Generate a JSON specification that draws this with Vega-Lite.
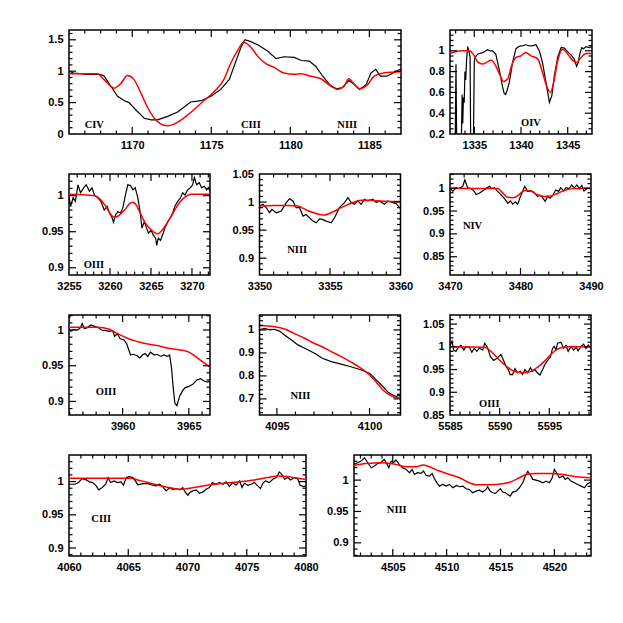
{
"$schema": "https://vega.github.io/schema/vega-lite/v6.json",
"background": "white",
"padding": {"left": 40, "top": 29, "right": 5, "bottom": 5},
"config": {
 "view": {"stroke": "black", "strokeWidth": 1.5},
 "axis": {"domain": false, "grid": false, "ticks": false, "tickSize": 0, "labelFont": "Liberation Sans", "labelFontSize": 11, "labelFontWeight": "bold", "labelColor": "black", "labelFlush": false, "labelOverlap": false, "labelBound": false},
 "tick": {"thickness": 1.2, "opacity": 1, "color": "black"}
},
"datasets": {
 "ao": [{"x":1166,"y":1.0},{"x":1166.3,"y":0.97},{"x":1166.7,"y":0.96},{"x":1167.1,"y":0.95},{"x":1167.5,"y":0.95},{"x":1167.9,"y":0.95},{"x":1168.2,"y":0.93},{"x":1168.65,"y":0.76},{"x":1169.07,"y":0.6},{"x":1169.5,"y":0.53},{"x":1169.8,"y":0.5},{"x":1170.2,"y":0.39},{"x":1170.76,"y":0.25},{"x":1171.2,"y":0.225},{"x":1171.6,"y":0.225},{"x":1172.24,"y":0.28},{"x":1172.87,"y":0.35},{"x":1173.7,"y":0.51},{"x":1174.35,"y":0.53},{"x":1174.98,"y":0.6},{"x":1175.6,"y":0.71},{"x":1176.14,"y":0.87},{"x":1176.56,"y":1.16},{"x":1176.88,"y":1.38},{"x":1177.13,"y":1.5},{"x":1177.5,"y":1.47},{"x":1177.93,"y":1.42},{"x":1178.56,"y":1.32},{"x":1179.1,"y":1.2},{"x":1179.6,"y":1.23},{"x":1180.25,"y":1.22},{"x":1180.7,"y":1.17},{"x":1181.2,"y":1.16},{"x":1181.6,"y":1.08},{"x":1182.05,"y":0.92},{"x":1182.47,"y":0.79},{"x":1182.9,"y":0.72},{"x":1183.3,"y":0.74},{"x":1183.7,"y":0.85},{"x":1184.05,"y":0.79},{"x":1184.37,"y":0.71},{"x":1184.8,"y":0.79},{"x":1185.1,"y":0.97},{"x":1185.4,"y":1.03},{"x":1185.7,"y":0.92},{"x":1186.1,"y":0.92},{"x":1186.5,"y":0.97},{"x":1187,"y":1.04}],
 "am": [{"x":1166,"y":0.96},{"x":1167.8,"y":0.96},{"x":1168.2,"y":0.87},{"x":1168.86,"y":0.73},{"x":1169.3,"y":0.81},{"x":1169.7,"y":0.93},{"x":1170.1,"y":0.87},{"x":1170.55,"y":0.65},{"x":1171,"y":0.41},{"x":1171.4,"y":0.25},{"x":1171.8,"y":0.16},{"x":1172.24,"y":0.13},{"x":1172.66,"y":0.16},{"x":1173.5,"y":0.3},{"x":1174.35,"y":0.49},{"x":1175.2,"y":0.68},{"x":1175.8,"y":0.87},{"x":1176.2,"y":1.11},{"x":1176.67,"y":1.33},{"x":1177.05,"y":1.46},{"x":1177.5,"y":1.38},{"x":1177.93,"y":1.24},{"x":1178.45,"y":1.12},{"x":1178.98,"y":1.06},{"x":1179.6,"y":0.97},{"x":1180.25,"y":0.95},{"x":1180.7,"y":0.96},{"x":1181.3,"y":0.92},{"x":1181.93,"y":0.88},{"x":1182.57,"y":0.76},{"x":1183,"y":0.71},{"x":1183.4,"y":0.76},{"x":1183.7,"y":0.88},{"x":1184.05,"y":0.79},{"x":1184.37,"y":0.72},{"x":1184.9,"y":0.79},{"x":1185.3,"y":0.92},{"x":1185.9,"y":0.97},{"x":1187,"y":0.99}],
 "al": [{"x":1167.6,"y":0.145,"t":"CIV"},{"x":1177.5,"y":0.145,"t":"CIII"},{"x":1183.6,"y":0.145,"t":"NIII"}],
 "at": [{"a":"x","k":"M","v":1170},{"a":"x","k":"M","v":1175},{"a":"x","k":"M","v":1180},{"a":"x","k":"M","v":1185},{"a":"x","k":"m","v":1167},{"a":"x","k":"m","v":1168},{"a":"x","k":"m","v":1169},{"a":"x","k":"m","v":1171},{"a":"x","k":"m","v":1172},{"a":"x","k":"m","v":1173},{"a":"x","k":"m","v":1174},{"a":"x","k":"m","v":1176},{"a":"x","k":"m","v":1177},{"a":"x","k":"m","v":1178},{"a":"x","k":"m","v":1179},{"a":"x","k":"m","v":1181},{"a":"x","k":"m","v":1182},{"a":"x","k":"m","v":1183},{"a":"x","k":"m","v":1184},{"a":"x","k":"m","v":1186},{"a":"y","k":"M","v":0.5},{"a":"y","k":"M","v":1},{"a":"y","k":"M","v":1.5},{"a":"y","k":"m","v":0.1},{"a":"y","k":"m","v":0.2},{"a":"y","k":"m","v":0.3},{"a":"y","k":"m","v":0.4},{"a":"y","k":"m","v":0.6},{"a":"y","k":"m","v":0.7},{"a":"y","k":"m","v":0.8},{"a":"y","k":"m","v":0.9},{"a":"y","k":"m","v":1.1},{"a":"y","k":"m","v":1.2},{"a":"y","k":"m","v":1.3},{"a":"y","k":"m","v":1.4},{"a":"y","k":"m","v":1.6}],
 "bo": [{"x":1332.4,"y":0.05},{"x":1332.95,"y":0.05},{"x":1333.04,"y":0.87},{"x":1333.12,"y":0.05},{"x":1333.6,"y":0.05},{"x":1333.7,"y":0.58},{"x":1333.76,"y":0.3},{"x":1333.84,"y":0.55},{"x":1333.92,"y":0.5},{"x":1334.0,"y":0.8},{"x":1334.08,"y":0.72},{"x":1334.18,"y":0.92},{"x":1334.3,"y":1.04},{"x":1334.42,"y":1.0},{"x":1334.55,"y":0.94},{"x":1334.62,"y":0.05},{"x":1334.9,"y":0.05},{"x":1335.0,"y":0.9},{"x":1335.1,"y":0.94},{"x":1335.4,"y":0.97},{"x":1335.8,"y":0.98},{"x":1336.1,"y":0.99},{"x":1336.4,"y":1.01},{"x":1336.7,"y":1.0},{"x":1336.96,"y":1.0},{"x":1337.3,"y":0.968},{"x":1337.7,"y":0.808},{"x":1338.04,"y":0.648},{"x":1338.2,"y":0.59},{"x":1338.35,"y":0.58},{"x":1338.5,"y":0.616},{"x":1338.75,"y":0.696},{"x":1339.1,"y":0.888},{"x":1339.46,"y":1.02},{"x":1339.75,"y":1.04},{"x":1340,"y":1.048},{"x":1340.25,"y":1.05},{"x":1340.5,"y":1.058},{"x":1340.8,"y":1.05},{"x":1341.07,"y":1.048},{"x":1341.3,"y":1.05},{"x":1341.6,"y":1.058},{"x":1341.96,"y":1.0},{"x":1342.3,"y":0.888},{"x":1342.7,"y":0.68},{"x":1343.04,"y":0.504},{"x":1343.3,"y":0.568},{"x":1343.57,"y":0.76},{"x":1343.93,"y":0.94},{"x":1344.3,"y":1.032},{"x":1344.64,"y":1.026},{"x":1345,"y":0.99},{"x":1345.36,"y":0.96},{"x":1345.7,"y":0.92},{"x":1345.95,"y":0.85},{"x":1346.1,"y":0.88},{"x":1346.3,"y":0.97},{"x":1346.5,"y":1.03},{"x":1346.7,"y":1.02},{"x":1346.96,"y":1.04},{"x":1347.3,"y":1.03},{"x":1347.6,"y":1.04}],
 "bm": [{"x":1332.4,"y":0.974},{"x":1333.6,"y":1.0},{"x":1334.46,"y":1.0},{"x":1335,"y":0.952},{"x":1335.36,"y":0.894},{"x":1335.9,"y":0.872},{"x":1336.4,"y":0.894},{"x":1336.8,"y":0.91},{"x":1337.3,"y":0.856},{"x":1337.7,"y":0.776},{"x":1338.14,"y":0.706},{"x":1338.57,"y":0.728},{"x":1338.93,"y":0.84},{"x":1339.46,"y":0.936},{"x":1340,"y":0.952},{"x":1340.5,"y":0.984},{"x":1341.07,"y":0.952},{"x":1341.8,"y":0.92},{"x":1342.3,"y":0.792},{"x":1342.8,"y":0.648},{"x":1343.14,"y":0.6},{"x":1343.5,"y":0.696},{"x":1343.93,"y":0.904},{"x":1344.46,"y":1.016},{"x":1345,"y":0.968},{"x":1345.5,"y":0.91},{"x":1345.95,"y":0.888},{"x":1346.43,"y":0.936},{"x":1346.96,"y":0.974},{"x":1347.6,"y":0.975}],
 "bl": [{"x":1341.07,"y":0.306,"t":"OIV"}],
 "bt": [{"a":"x","k":"M","v":1335},{"a":"x","k":"M","v":1340},{"a":"x","k":"M","v":1345},{"a":"x","k":"m","v":1333},{"a":"x","k":"m","v":1334},{"a":"x","k":"m","v":1336},{"a":"x","k":"m","v":1337},{"a":"x","k":"m","v":1338},{"a":"x","k":"m","v":1339},{"a":"x","k":"m","v":1341},{"a":"x","k":"m","v":1342},{"a":"x","k":"m","v":1343},{"a":"x","k":"m","v":1344},{"a":"x","k":"m","v":1346},{"a":"x","k":"m","v":1347},{"a":"y","k":"M","v":0.4},{"a":"y","k":"M","v":0.6},{"a":"y","k":"M","v":0.8},{"a":"y","k":"M","v":1},{"a":"y","k":"m","v":0.25},{"a":"y","k":"m","v":0.3},{"a":"y","k":"m","v":0.35},{"a":"y","k":"m","v":0.45},{"a":"y","k":"m","v":0.5},{"a":"y","k":"m","v":0.55},{"a":"y","k":"m","v":0.65},{"a":"y","k":"m","v":0.7},{"a":"y","k":"m","v":0.75},{"a":"y","k":"m","v":0.85},{"a":"y","k":"m","v":0.9},{"a":"y","k":"m","v":0.95},{"a":"y","k":"m","v":1.05},{"a":"y","k":"m","v":1.1},{"a":"y","k":"m","v":1.15}],
 "co": [{"x":3255,"y":0.999},{"x":3255.2,"y":0.985},{"x":3255.5,"y":0.997},{"x":3255.77,"y":0.992},{"x":3256.1,"y":1.015},{"x":3256.4,"y":1.004},{"x":3256.8,"y":1.011},{"x":3257.1,"y":1.015},{"x":3257.5,"y":1.006},{"x":3257.8,"y":1.011},{"x":3258.1,"y":1.001},{"x":3258.5,"y":0.997},{"x":3258.9,"y":0.992},{"x":3259.3,"y":0.98},{"x":3259.66,"y":0.985},{"x":3259.95,"y":0.976},{"x":3260.27,"y":0.969},{"x":3260.43,"y":0.963},{"x":3260.67,"y":0.973},{"x":3260.96,"y":0.978},{"x":3261.28,"y":0.976},{"x":3261.57,"y":0.983},{"x":3261.85,"y":0.999},{"x":3262.17,"y":1.015},{"x":3262.5,"y":1.014},{"x":3262.8,"y":1.008},{"x":3263.07,"y":1.011},{"x":3263.4,"y":0.997},{"x":3263.67,"y":0.978},{"x":3263.9,"y":0.955},{"x":3264.2,"y":0.964},{"x":3264.4,"y":0.957},{"x":3264.7,"y":0.948},{"x":3265,"y":0.952},{"x":3265.3,"y":0.945},{"x":3265.57,"y":0.941},{"x":3265.7,"y":0.931},{"x":3265.9,"y":0.941},{"x":3266.15,"y":0.938},{"x":3266.4,"y":0.945},{"x":3266.7,"y":0.955},{"x":3267.04,"y":0.964},{"x":3267.36,"y":0.969},{"x":3267.65,"y":0.976},{"x":3267.9,"y":0.985},{"x":3268.26,"y":0.992},{"x":3268.6,"y":0.997},{"x":3268.86,"y":1.004},{"x":3269.15,"y":1.001},{"x":3269.47,"y":1.008},{"x":3269.8,"y":1.011},{"x":3270.08,"y":1.015},{"x":3270.3,"y":1.025},{"x":3270.57,"y":1.015},{"x":3270.9,"y":1.018},{"x":3271.17,"y":1.011},{"x":3271.5,"y":1.013},{"x":3271.8,"y":1.008},{"x":3272.0,"y":1.011},{"x":3272.2,"y":1.006}],
 "cm": [{"x":3255,"y":1.002},{"x":3258.1,"y":1.0},{"x":3258.9,"y":0.994},{"x":3259.5,"y":0.985},{"x":3260.15,"y":0.973},{"x":3260.55,"y":0.97},{"x":3261.16,"y":0.973},{"x":3261.77,"y":0.98},{"x":3262.4,"y":0.989},{"x":3262.8,"y":0.991},{"x":3263.2,"y":0.987},{"x":3263.6,"y":0.978},{"x":3264.2,"y":0.964},{"x":3264.8,"y":0.955},{"x":3265.4,"y":0.949},{"x":3265.8,"y":0.947},{"x":3266.2,"y":0.95},{"x":3266.8,"y":0.959},{"x":3267.45,"y":0.971},{"x":3268.05,"y":0.983},{"x":3268.66,"y":0.993},{"x":3269.27,"y":0.999},{"x":3269.9,"y":1.002},{"x":3272.2,"y":1.002}],
 "cl": [{"x":3258.04,"y":0.904,"t":"OIII"}],
 "ct": [{"a":"x","k":"M","v":3260},{"a":"x","k":"M","v":3265},{"a":"x","k":"M","v":3270},{"a":"x","k":"m","v":3256},{"a":"x","k":"m","v":3257},{"a":"x","k":"m","v":3258},{"a":"x","k":"m","v":3259},{"a":"x","k":"m","v":3261},{"a":"x","k":"m","v":3262},{"a":"x","k":"m","v":3263},{"a":"x","k":"m","v":3264},{"a":"x","k":"m","v":3266},{"a":"x","k":"m","v":3267},{"a":"x","k":"m","v":3268},{"a":"x","k":"m","v":3269},{"a":"x","k":"m","v":3271},{"a":"x","k":"m","v":3272},{"a":"y","k":"M","v":0.9},{"a":"y","k":"M","v":0.95},{"a":"y","k":"M","v":1},{"a":"y","k":"m","v":0.91},{"a":"y","k":"m","v":0.92},{"a":"y","k":"m","v":0.93},{"a":"y","k":"m","v":0.94},{"a":"y","k":"m","v":0.96},{"a":"y","k":"m","v":0.97},{"a":"y","k":"m","v":0.98},{"a":"y","k":"m","v":0.99},{"a":"y","k":"m","v":1.01},{"a":"y","k":"m","v":1.02}],
 "do": [{"x":3350,"y":0.993},{"x":3350.24,"y":0.996},{"x":3350.48,"y":0.99},{"x":3350.71,"y":0.981},{"x":3350.88,"y":0.987},{"x":3351.18,"y":0.981},{"x":3351.54,"y":0.984},{"x":3351.9,"y":0.999},{"x":3352.13,"y":1.006},{"x":3352.37,"y":1.002},{"x":3352.6,"y":0.99},{"x":3352.84,"y":0.99},{"x":3353.08,"y":0.975},{"x":3353.3,"y":0.978},{"x":3353.55,"y":0.972},{"x":3353.79,"y":0.966},{"x":3354.02,"y":0.963},{"x":3354.26,"y":0.97},{"x":3354.45,"y":0.969},{"x":3354.73,"y":0.966},{"x":3355.08,"y":0.963},{"x":3355.32,"y":0.972},{"x":3355.67,"y":0.99},{"x":3356.03,"y":0.999},{"x":3356.27,"y":1.008},{"x":3356.5,"y":0.999},{"x":3356.74,"y":0.996},{"x":3356.98,"y":1.002},{"x":3357.2,"y":0.996},{"x":3357.45,"y":1.005},{"x":3357.69,"y":1.002},{"x":3358.04,"y":1.005},{"x":3358.28,"y":0.999},{"x":3358.5,"y":1.002},{"x":3358.87,"y":0.996},{"x":3359.1,"y":1.002},{"x":3359.46,"y":0.999},{"x":3359.7,"y":0.997},{"x":3359.93,"y":0.99},{"x":3360,"y":0.99}],
 "dm": [{"x":3350,"y":0.993},{"x":3351.06,"y":0.994},{"x":3352,"y":0.994},{"x":3352.7,"y":0.993},{"x":3353.4,"y":0.985},{"x":3354.26,"y":0.978},{"x":3354.6,"y":0.977},{"x":3355.08,"y":0.981},{"x":3355.8,"y":0.99},{"x":3356.5,"y":0.998},{"x":3357.2,"y":1.003},{"x":3357.9,"y":1.003},{"x":3358.6,"y":1.002},{"x":3359.3,"y":1.001},{"x":3360,"y":1.001}],
 "dl": [{"x":3352.67,"y":0.915,"t":"NIII"}],
 "dt": [{"a":"x","k":"M","v":3355},{"a":"x","k":"m","v":3351},{"a":"x","k":"m","v":3352},{"a":"x","k":"m","v":3353},{"a":"x","k":"m","v":3354},{"a":"x","k":"m","v":3356},{"a":"x","k":"m","v":3357},{"a":"x","k":"m","v":3358},{"a":"x","k":"m","v":3359},{"a":"y","k":"M","v":0.9},{"a":"y","k":"M","v":0.95},{"a":"y","k":"M","v":1},{"a":"y","k":"m","v":0.88},{"a":"y","k":"m","v":0.89},{"a":"y","k":"m","v":0.91},{"a":"y","k":"m","v":0.92},{"a":"y","k":"m","v":0.93},{"a":"y","k":"m","v":0.94},{"a":"y","k":"m","v":0.96},{"a":"y","k":"m","v":0.97},{"a":"y","k":"m","v":0.98},{"a":"y","k":"m","v":0.99},{"a":"y","k":"m","v":1.01},{"a":"y","k":"m","v":1.02},{"a":"y","k":"m","v":1.03},{"a":"y","k":"m","v":1.04}],
 "eo": [{"x":3470,"y":1.0},{"x":3470.4,"y":0.993},{"x":3470.85,"y":1.001},{"x":3471.3,"y":0.999},{"x":3471.8,"y":1.004},{"x":3472.1,"y":1.018},{"x":3472.5,"y":1.001},{"x":3473,"y":0.999},{"x":3473.45,"y":0.993},{"x":3473.7,"y":0.986},{"x":3474.16,"y":0.989},{"x":3474.6,"y":0.994},{"x":3475.1,"y":0.999},{"x":3475.6,"y":1.004},{"x":3475.9,"y":0.999},{"x":3476.3,"y":1.001},{"x":3476.76,"y":0.993},{"x":3477.2,"y":0.986},{"x":3477.7,"y":0.978},{"x":3478.2,"y":0.967},{"x":3478.56,"y":0.972},{"x":3478.9,"y":0.965},{"x":3479.27,"y":0.97},{"x":3479.6,"y":0.965},{"x":3479.9,"y":0.978},{"x":3480.3,"y":0.993},{"x":3480.6,"y":1.004},{"x":3481,"y":0.993},{"x":3481.5,"y":0.994},{"x":3481.9,"y":0.991},{"x":3482.4,"y":0.982},{"x":3482.8,"y":0.984},{"x":3483.1,"y":0.98},{"x":3483.5,"y":0.971},{"x":3483.85,"y":0.982},{"x":3484.2,"y":0.978},{"x":3484.56,"y":0.984},{"x":3485,"y":0.996},{"x":3485.4,"y":0.993},{"x":3485.7,"y":1.001},{"x":3486.1,"y":0.994},{"x":3486.45,"y":1.001},{"x":3486.9,"y":0.999},{"x":3487.26,"y":1.007},{"x":3487.6,"y":1.0},{"x":3488,"y":1.007},{"x":3488.35,"y":0.999},{"x":3488.7,"y":1.006},{"x":3489,"y":0.994},{"x":3489.5,"y":1.0},{"x":3490,"y":0.999}],
 "em": [{"x":3470,"y":1.0},{"x":3476.76,"y":0.999},{"x":3477.5,"y":0.989},{"x":3478.2,"y":0.98},{"x":3478.9,"y":0.979},{"x":3479.6,"y":0.983},{"x":3480.3,"y":0.993},{"x":3480.8,"y":0.995},{"x":3481.5,"y":0.993},{"x":3482.4,"y":0.986},{"x":3483.4,"y":0.982},{"x":3484.3,"y":0.983},{"x":3485.3,"y":0.989},{"x":3486.2,"y":0.995},{"x":3487.6,"y":0.999},{"x":3490,"y":1.0}],
 "el": [{"x":3473.2,"y":0.917,"t":"NIV"}],
 "et": [{"a":"x","k":"M","v":3480},{"a":"x","k":"m","v":3472},{"a":"x","k":"m","v":3474},{"a":"x","k":"m","v":3476},{"a":"x","k":"m","v":3478},{"a":"x","k":"m","v":3482},{"a":"x","k":"m","v":3484},{"a":"x","k":"m","v":3486},{"a":"x","k":"m","v":3488},{"a":"y","k":"M","v":0.85},{"a":"y","k":"M","v":0.9},{"a":"y","k":"M","v":0.95},{"a":"y","k":"M","v":1},{"a":"y","k":"m","v":0.82},{"a":"y","k":"m","v":0.83},{"a":"y","k":"m","v":0.84},{"a":"y","k":"m","v":0.86},{"a":"y","k":"m","v":0.87},{"a":"y","k":"m","v":0.88},{"a":"y","k":"m","v":0.89},{"a":"y","k":"m","v":0.91},{"a":"y","k":"m","v":0.92},{"a":"y","k":"m","v":0.93},{"a":"y","k":"m","v":0.94},{"a":"y","k":"m","v":0.96},{"a":"y","k":"m","v":0.97},{"a":"y","k":"m","v":0.98},{"a":"y","k":"m","v":0.99},{"a":"y","k":"m","v":1.01},{"a":"y","k":"m","v":1.02},{"a":"y","k":"m","v":1.03}],
 "fo": [{"x":3955.95,"y":1.002},{"x":3956.1,"y":0.998},{"x":3956.3,"y":1.001},{"x":3956.6,"y":1.0},{"x":3956.8,"y":1.003},{"x":3956.95,"y":1.009},{"x":3957.1,"y":1.002},{"x":3957.3,"y":1.003},{"x":3957.6,"y":1.007},{"x":3957.9,"y":1.005},{"x":3958.2,"y":1.003},{"x":3958.4,"y":1.0},{"x":3958.75,"y":0.999},{"x":3959,"y":0.998},{"x":3959.25,"y":0.999},{"x":3959.4,"y":0.991},{"x":3959.6,"y":0.995},{"x":3959.8,"y":0.988},{"x":3960.1,"y":0.986},{"x":3960.3,"y":0.981},{"x":3960.6,"y":0.965},{"x":3960.8,"y":0.966},{"x":3961.1,"y":0.964},{"x":3961.3,"y":0.961},{"x":3961.5,"y":0.965},{"x":3961.7,"y":0.967},{"x":3961.9,"y":0.963},{"x":3962.1,"y":0.969},{"x":3962.4,"y":0.965},{"x":3962.6,"y":0.966},{"x":3962.9,"y":0.963},{"x":3963.1,"y":0.965},{"x":3963.4,"y":0.963},{"x":3963.55,"y":0.965},{"x":3963.7,"y":0.946},{"x":3963.8,"y":0.923},{"x":3963.95,"y":0.897},{"x":3964.1,"y":0.894},{"x":3964.3,"y":0.907},{"x":3964.5,"y":0.914},{"x":3964.7,"y":0.919},{"x":3965,"y":0.921},{"x":3965.3,"y":0.924},{"x":3965.6,"y":0.93},{"x":3965.9,"y":0.932},{"x":3966.1,"y":0.929},{"x":3966.4,"y":0.927},{"x":3966.6,"y":0.928}],
 "fm": [{"x":3955.95,"y":1.004},{"x":3958.1,"y":1.004},{"x":3959,"y":1.001},{"x":3959.6,"y":0.995},{"x":3960.4,"y":0.988},{"x":3961.1,"y":0.984},{"x":3962,"y":0.98},{"x":3962.9,"y":0.977},{"x":3963.6,"y":0.974},{"x":3964.4,"y":0.972},{"x":3965,"y":0.969},{"x":3965.5,"y":0.963},{"x":3966,"y":0.956},{"x":3966.6,"y":0.948}],
 "fl": [{"x":3958.75,"y":0.913,"t":"OIII"}],
 "ft": [{"a":"x","k":"M","v":3960},{"a":"x","k":"M","v":3965},{"a":"x","k":"m","v":3956},{"a":"x","k":"m","v":3957},{"a":"x","k":"m","v":3958},{"a":"x","k":"m","v":3959},{"a":"x","k":"m","v":3961},{"a":"x","k":"m","v":3962},{"a":"x","k":"m","v":3963},{"a":"x","k":"m","v":3964},{"a":"x","k":"m","v":3966},{"a":"y","k":"M","v":0.9},{"a":"y","k":"M","v":0.95},{"a":"y","k":"M","v":1},{"a":"y","k":"m","v":0.89},{"a":"y","k":"m","v":0.91},{"a":"y","k":"m","v":0.92},{"a":"y","k":"m","v":0.93},{"a":"y","k":"m","v":0.94},{"a":"y","k":"m","v":0.96},{"a":"y","k":"m","v":0.97},{"a":"y","k":"m","v":0.98},{"a":"y","k":"m","v":0.99},{"a":"y","k":"m","v":1.01},{"a":"y","k":"m","v":1.02}],
 "go": [{"x":4094.06,"y":1.0},{"x":4094.33,"y":1.007},{"x":4094.6,"y":1.0},{"x":4094.87,"y":1.003},{"x":4095.14,"y":0.995},{"x":4095.41,"y":0.978},{"x":4095.77,"y":0.957},{"x":4096.13,"y":0.935},{"x":4096.5,"y":0.92},{"x":4096.85,"y":0.906},{"x":4097.12,"y":0.894},{"x":4097.3,"y":0.884},{"x":4097.45,"y":0.877},{"x":4097.93,"y":0.862},{"x":4098.47,"y":0.851},{"x":4099.0,"y":0.84},{"x":4099.55,"y":0.826},{"x":4100,"y":0.812},{"x":4100.36,"y":0.783},{"x":4100.72,"y":0.754},{"x":4101,"y":0.729},{"x":4101.26,"y":0.717},{"x":4101.44,"y":0.71},{"x":4101.55,"y":0.717},{"x":4101.67,"y":0.71}],
 "gm": [{"x":4094.06,"y":1.019},{"x":4094.87,"y":1.014},{"x":4095.41,"y":1.004},{"x":4095.9,"y":0.986},{"x":4096.5,"y":0.964},{"x":4097,"y":0.942},{"x":4097.4,"y":0.928},{"x":4097.93,"y":0.906},{"x":4098.47,"y":0.884},{"x":4099,"y":0.86},{"x":4099.55,"y":0.833},{"x":4100,"y":0.804},{"x":4100.36,"y":0.773},{"x":4100.72,"y":0.739},{"x":4101.1,"y":0.717},{"x":4101.35,"y":0.707},{"x":4101.67,"y":0.705}],
 "gl": [{"x":4096.27,"y":0.714,"t":"NIII"}],
 "gt": [{"a":"x","k":"M","v":4095},{"a":"x","k":"M","v":4100},{"a":"x","k":"m","v":4096},{"a":"x","k":"m","v":4097},{"a":"x","k":"m","v":4098},{"a":"x","k":"m","v":4099},{"a":"x","k":"m","v":4101},{"a":"y","k":"M","v":0.7},{"a":"y","k":"M","v":0.8},{"a":"y","k":"M","v":0.9},{"a":"y","k":"M","v":1},{"a":"y","k":"m","v":0.64},{"a":"y","k":"m","v":0.66},{"a":"y","k":"m","v":0.68},{"a":"y","k":"m","v":0.72},{"a":"y","k":"m","v":0.74},{"a":"y","k":"m","v":0.76},{"a":"y","k":"m","v":0.78},{"a":"y","k":"m","v":0.82},{"a":"y","k":"m","v":0.84},{"a":"y","k":"m","v":0.86},{"a":"y","k":"m","v":0.88},{"a":"y","k":"m","v":0.92},{"a":"y","k":"m","v":0.94},{"a":"y","k":"m","v":0.96},{"a":"y","k":"m","v":0.98},{"a":"y","k":"m","v":1.02},{"a":"y","k":"m","v":1.04},{"a":"y","k":"m","v":1.06}],
 "ho": [{"x":5585,"y":1.001},{"x":5585.2,"y":1.013},{"x":5585.37,"y":0.993},{"x":5585.6,"y":0.99},{"x":5585.84,"y":0.999},{"x":5586.1,"y":1.003},{"x":5586.4,"y":0.993},{"x":5586.6,"y":1.001},{"x":5586.95,"y":0.999},{"x":5587.2,"y":0.988},{"x":5587.45,"y":0.997},{"x":5587.7,"y":0.99},{"x":5587.95,"y":0.997},{"x":5588.3,"y":0.993},{"x":5588.5,"y":1.008},{"x":5588.8,"y":0.997},{"x":5589.06,"y":0.979},{"x":5589.4,"y":0.97},{"x":5589.7,"y":0.974},{"x":5590.13,"y":0.983},{"x":5590.4,"y":0.97},{"x":5590.64,"y":0.957},{"x":5590.87,"y":0.95},{"x":5591.07,"y":0.939},{"x":5591.3,"y":0.939},{"x":5591.54,"y":0.952},{"x":5591.8,"y":0.943},{"x":5592.08,"y":0.946},{"x":5592.3,"y":0.939},{"x":5592.55,"y":0.95},{"x":5592.8,"y":0.943},{"x":5593.1,"y":0.954},{"x":5593.3,"y":0.946},{"x":5593.55,"y":0.95},{"x":5593.8,"y":0.943},{"x":5594.06,"y":0.938},{"x":5594.33,"y":0.95},{"x":5594.56,"y":0.961},{"x":5594.83,"y":0.97},{"x":5595.1,"y":0.977},{"x":5595.33,"y":0.997},{"x":5595.5,"y":1.001},{"x":5595.67,"y":0.993},{"x":5595.84,"y":1.008},{"x":5596.17,"y":1.01},{"x":5596.44,"y":0.997},{"x":5596.68,"y":1.003},{"x":5596.9,"y":0.99},{"x":5597.18,"y":1.001},{"x":5597.45,"y":0.993},{"x":5597.7,"y":0.999},{"x":5597.9,"y":0.991},{"x":5598.2,"y":1.001},{"x":5598.46,"y":1.006},{"x":5598.7,"y":0.996},{"x":5598.93,"y":1.004},{"x":5599.2,"y":0.997}],
 "hm": [{"x":5585,"y":1.0},{"x":5588.46,"y":0.999},{"x":5589.13,"y":0.99},{"x":5589.8,"y":0.975},{"x":5590.47,"y":0.961},{"x":5591.14,"y":0.95},{"x":5591.8,"y":0.944},{"x":5592.48,"y":0.943},{"x":5593.15,"y":0.946},{"x":5593.8,"y":0.955},{"x":5594.5,"y":0.968},{"x":5595.17,"y":0.983},{"x":5595.67,"y":0.993},{"x":5596.17,"y":0.998},{"x":5596.85,"y":1.0},{"x":5599.2,"y":1.0}],
 "hl": [{"x":5588.96,"y":0.875,"t":"OIII"}],
 "ht": [{"a":"x","k":"M","v":5590},{"a":"x","k":"M","v":5595},{"a":"x","k":"m","v":5586},{"a":"x","k":"m","v":5587},{"a":"x","k":"m","v":5588},{"a":"x","k":"m","v":5589},{"a":"x","k":"m","v":5591},{"a":"x","k":"m","v":5592},{"a":"x","k":"m","v":5593},{"a":"x","k":"m","v":5594},{"a":"x","k":"m","v":5596},{"a":"x","k":"m","v":5597},{"a":"x","k":"m","v":5598},{"a":"x","k":"m","v":5599},{"a":"y","k":"M","v":0.9},{"a":"y","k":"M","v":0.95},{"a":"y","k":"M","v":1},{"a":"y","k":"M","v":1.05},{"a":"y","k":"m","v":0.86},{"a":"y","k":"m","v":0.87},{"a":"y","k":"m","v":0.88},{"a":"y","k":"m","v":0.89},{"a":"y","k":"m","v":0.91},{"a":"y","k":"m","v":0.92},{"a":"y","k":"m","v":0.93},{"a":"y","k":"m","v":0.94},{"a":"y","k":"m","v":0.96},{"a":"y","k":"m","v":0.97},{"a":"y","k":"m","v":0.98},{"a":"y","k":"m","v":0.99},{"a":"y","k":"m","v":1.01},{"a":"y","k":"m","v":1.02},{"a":"y","k":"m","v":1.03},{"a":"y","k":"m","v":1.04},{"a":"y","k":"m","v":1.06}],
 "io": [{"x":4060,"y":0.996},{"x":4060.5,"y":0.996},{"x":4060.8,"y":0.9985},{"x":4061.1,"y":1.0045},{"x":4061.46,"y":1.0025},{"x":4061.74,"y":0.9995},{"x":4062.0,"y":0.9985},{"x":4062.3,"y":0.9935},{"x":4062.5,"y":0.9875},{"x":4062.8,"y":0.991},{"x":4063.1,"y":0.996},{"x":4063.3,"y":1.006},{"x":4063.5,"y":0.9985},{"x":4063.8,"y":1.001},{"x":4064.07,"y":0.9985},{"x":4064.4,"y":0.9995},{"x":4064.6,"y":0.9945},{"x":4064.83,"y":1.006},{"x":4065.1,"y":1.0075},{"x":4065.4,"y":1.006},{"x":4065.6,"y":1.001},{"x":4065.8,"y":0.995},{"x":4066.24,"y":0.997},{"x":4066.66,"y":0.997},{"x":4067.08,"y":0.9945},{"x":4067.36,"y":0.9935},{"x":4067.64,"y":0.996},{"x":4067.9,"y":0.9925},{"x":4068.2,"y":0.986},{"x":4068.5,"y":0.991},{"x":4068.76,"y":0.9875},{"x":4069.04,"y":0.9895},{"x":4069.33,"y":0.9875},{"x":4069.6,"y":0.991},{"x":4069.8,"y":0.9845},{"x":4070.03,"y":0.9795},{"x":4070.2,"y":0.9835},{"x":4070.45,"y":0.986},{"x":4070.73,"y":0.9875},{"x":4071,"y":0.9825},{"x":4071.3,"y":0.9845},{"x":4071.57,"y":0.9885},{"x":4071.85,"y":0.991},{"x":4072.1,"y":0.9985},{"x":4072.4,"y":0.996},{"x":4072.7,"y":0.9985},{"x":4073,"y":0.996},{"x":4073.26,"y":0.9995},{"x":4073.54,"y":0.9925},{"x":4073.8,"y":0.9985},{"x":4074.1,"y":0.9945},{"x":4074.4,"y":1.001},{"x":4074.6,"y":0.991},{"x":4074.8,"y":0.9975},{"x":4075.1,"y":0.9945},{"x":4075.36,"y":0.996},{"x":4075.65,"y":0.9985},{"x":4075.93,"y":0.9935},{"x":4076.15,"y":0.9895},{"x":4076.4,"y":0.9985},{"x":4076.6,"y":1.001},{"x":4076.9,"y":0.9985},{"x":4077.2,"y":1.0035},{"x":4077.5,"y":1.006},{"x":4077.75,"y":1.0145},{"x":4077.95,"y":1.011},{"x":4078.2,"y":1.0035},{"x":4078.46,"y":1.006},{"x":4078.7,"y":1.0025},{"x":4079,"y":1.006},{"x":4079.3,"y":1.0045},{"x":4079.5,"y":0.9945},{"x":4079.8,"y":0.9925},{"x":4080,"y":0.9935}],
 "im": [{"x":4060,"y":1.005},{"x":4065.25,"y":1.005},{"x":4065.8,"y":1.0025},{"x":4066.66,"y":0.9985},{"x":4067.8,"y":0.9935},{"x":4068.9,"y":0.9895},{"x":4069.5,"y":0.9885},{"x":4070.3,"y":0.9905},{"x":4071.7,"y":0.9945},{"x":4072.85,"y":0.997},{"x":4074.24,"y":0.9995},{"x":4075.65,"y":1.0025},{"x":4076.77,"y":1.006},{"x":4077.6,"y":1.0085},{"x":4078.46,"y":1.0075},{"x":4079.3,"y":1.005},{"x":4080,"y":1.003}],
 "il": [{"x":4062.72,"y":0.9435,"t":"CIII"}],
 "it": [{"a":"x","k":"M","v":4065},{"a":"x","k":"M","v":4070},{"a":"x","k":"M","v":4075},{"a":"x","k":"m","v":4061},{"a":"x","k":"m","v":4062},{"a":"x","k":"m","v":4063},{"a":"x","k":"m","v":4064},{"a":"x","k":"m","v":4066},{"a":"x","k":"m","v":4067},{"a":"x","k":"m","v":4068},{"a":"x","k":"m","v":4069},{"a":"x","k":"m","v":4071},{"a":"x","k":"m","v":4072},{"a":"x","k":"m","v":4073},{"a":"x","k":"m","v":4074},{"a":"x","k":"m","v":4076},{"a":"x","k":"m","v":4077},{"a":"x","k":"m","v":4078},{"a":"x","k":"m","v":4079},{"a":"y","k":"M","v":0.9},{"a":"y","k":"M","v":0.95},{"a":"y","k":"M","v":1},{"a":"y","k":"m","v":0.89},{"a":"y","k":"m","v":0.91},{"a":"y","k":"m","v":0.92},{"a":"y","k":"m","v":0.93},{"a":"y","k":"m","v":0.94},{"a":"y","k":"m","v":0.96},{"a":"y","k":"m","v":0.97},{"a":"y","k":"m","v":0.98},{"a":"y","k":"m","v":0.99},{"a":"y","k":"m","v":1.01},{"a":"y","k":"m","v":1.02},{"a":"y","k":"m","v":1.03}],
 "jo": [{"x":4501.4,"y":1.025},{"x":4501.75,"y":1.0277},{"x":4502.06,"y":1.0303},{"x":4502.37,"y":1.0356},{"x":4502.68,"y":1.0277},{"x":4503,"y":1.0197},{"x":4503.3,"y":1.0223},{"x":4503.6,"y":1.0266},{"x":4503.9,"y":1.0277},{"x":4504.2,"y":1.033},{"x":4504.44,"y":1.0266},{"x":4504.63,"y":1.0197},{"x":4504.85,"y":1.0303},{"x":4505.06,"y":1.0277},{"x":4505.3,"y":1.032},{"x":4505.6,"y":1.025},{"x":4505.93,"y":1.0197},{"x":4506.24,"y":1.017},{"x":4506.55,"y":1.0117},{"x":4506.8,"y":1.017},{"x":4507,"y":1.009},{"x":4507.3,"y":1.0117},{"x":4507.63,"y":1.0106},{"x":4507.85,"y":1.0144},{"x":4508.1,"y":1.0074},{"x":4508.4,"y":1.0064},{"x":4508.65,"y":1.0106},{"x":4508.87,"y":1.0021},{"x":4509.1,"y":0.9957},{"x":4509.33,"y":0.9904},{"x":4509.64,"y":0.9931},{"x":4509.95,"y":0.9904},{"x":4510.26,"y":0.9931},{"x":4510.57,"y":0.9878},{"x":4510.9,"y":0.9915},{"x":4511.2,"y":0.9894},{"x":4511.5,"y":0.9904},{"x":4511.8,"y":0.9862},{"x":4512.1,"y":0.9851},{"x":4512.42,"y":0.9798},{"x":4512.73,"y":0.9824},{"x":4513.04,"y":0.984},{"x":4513.35,"y":0.9809},{"x":4513.66,"y":0.9851},{"x":4513.8,"y":0.9894},{"x":4514.03,"y":0.9824},{"x":4514.28,"y":0.9798},{"x":4514.53,"y":0.9787},{"x":4514.74,"y":0.9824},{"x":4515,"y":0.9862},{"x":4515.2,"y":0.9809},{"x":4515.45,"y":0.9798},{"x":4515.67,"y":0.9771},{"x":4515.9,"y":0.9745},{"x":4516.13,"y":0.9809},{"x":4516.44,"y":0.9824},{"x":4516.75,"y":0.9878},{"x":4517.06,"y":0.9957},{"x":4517.3,"y":1.0064},{"x":4517.53,"y":1.014},{"x":4517.74,"y":1.0091},{"x":4518,"y":1.0011},{"x":4518.3,"y":1.0},{"x":4518.6,"y":0.9984},{"x":4518.92,"y":0.9957},{"x":4519.23,"y":0.9984},{"x":4519.54,"y":0.9957},{"x":4519.8,"y":1.0037},{"x":4520,"y":1.017},{"x":4520.2,"y":1.0117},{"x":4520.47,"y":1.0037},{"x":4520.8,"y":1.0064},{"x":4521,"y":1.0011},{"x":4521.24,"y":1.0037},{"x":4521.55,"y":0.9984},{"x":4521.86,"y":0.9957},{"x":4522.17,"y":0.9931},{"x":4522.48,"y":0.9904},{"x":4522.8,"y":0.9878},{"x":4523,"y":0.9931},{"x":4523.25,"y":0.9957},{"x":4523.4,"y":0.9968}],
 "jm": [{"x":4501.4,"y":1.0234},{"x":4502.5,"y":1.0266},{"x":4504.07,"y":1.0277},{"x":4505.3,"y":1.025},{"x":4506.24,"y":1.0213},{"x":4507.17,"y":1.0213},{"x":4507.8,"y":1.024},{"x":4508.4,"y":1.0213},{"x":4509.33,"y":1.0144},{"x":4510.26,"y":1.009},{"x":4511.2,"y":1.0037},{"x":4512.1,"y":0.9957},{"x":4512.73,"y":0.9926},{"x":4514,"y":0.9926},{"x":4515.2,"y":0.994},{"x":4516.13,"y":0.9984},{"x":4516.75,"y":1.0037},{"x":4517.37,"y":1.009},{"x":4518.3,"y":1.0106},{"x":4519.54,"y":1.0106},{"x":4520.8,"y":1.009},{"x":4522,"y":1.0053},{"x":4523.4,"y":1.0037}],
 "jl": [{"x":4505.37,"y":0.953,"t":"NIII"}],
 "jt": [{"a":"x","k":"M","v":4505},{"a":"x","k":"M","v":4510},{"a":"x","k":"M","v":4515},{"a":"x","k":"M","v":4520},{"a":"x","k":"m","v":4502},{"a":"x","k":"m","v":4503},{"a":"x","k":"m","v":4504},{"a":"x","k":"m","v":4506},{"a":"x","k":"m","v":4507},{"a":"x","k":"m","v":4508},{"a":"x","k":"m","v":4509},{"a":"x","k":"m","v":4511},{"a":"x","k":"m","v":4512},{"a":"x","k":"m","v":4513},{"a":"x","k":"m","v":4514},{"a":"x","k":"m","v":4516},{"a":"x","k":"m","v":4517},{"a":"x","k":"m","v":4518},{"a":"x","k":"m","v":4519},{"a":"x","k":"m","v":4521},{"a":"x","k":"m","v":4522},{"a":"x","k":"m","v":4523},{"a":"y","k":"M","v":0.9},{"a":"y","k":"M","v":0.95},{"a":"y","k":"M","v":1},{"a":"y","k":"m","v":0.88},{"a":"y","k":"m","v":0.89},{"a":"y","k":"m","v":0.91},{"a":"y","k":"m","v":0.92},{"a":"y","k":"m","v":0.93},{"a":"y","k":"m","v":0.94},{"a":"y","k":"m","v":0.96},{"a":"y","k":"m","v":0.97},{"a":"y","k":"m","v":0.98},{"a":"y","k":"m","v":0.99},{"a":"y","k":"m","v":1.01},{"a":"y","k":"m","v":1.02},{"a":"y","k":"m","v":1.03}]
},
"spacing": 15,
"vconcat": [
 {"hconcat": [
  {"width":332,"height":104,"layer":[
   {"data":{"name":"ao"},"mark":{"type":"line","color":"black","strokeWidth":1.2,"clip":true},"encoding":{"x":{"field":"x","type":"quantitative","scale":{"domain":[1166,1187],"nice":false,"zero":false},"axis":{"orient":"bottom","values":[1170,1175,1180,1185],"labelPadding":5.5,"format":"~g","title":null}},"y":{"field":"y","type":"quantitative","scale":{"domain":[0,1.656],"nice":false,"zero":false},"axis":{"orient":"left","values":[0,0.5,1,1.5],"labelPadding":6,"format":"~g","title":null}}}},
   {"data":{"name":"am"},"mark":{"type":"line","color":"#ff0000","strokeWidth":1.5,"clip":true,"interpolate":"monotone"},"encoding":{"x":{"field":"x","type":"quantitative","axis":null},"y":{"field":"y","type":"quantitative","axis":{"orient":"left","values":[0.8],"labelExpr":"'0.95'","labelOpacity":0,"labelPadding":6,"title":null}}}},
   {"data":{"name":"al"},"mark":{"type":"text","font":"Liberation Serif","fontSize":10.5,"fontWeight":"bold","color":"black"},"encoding":{"x":{"field":"x","type":"quantitative","axis":null},"y":{"field":"y","type":"quantitative","axis":null},"text":{"field":"t"}}},
   {"data":{"name":"at"},"transform":[{"filter":"datum.a=='x'&&datum.k=='M'"}],"mark":{"type":"tick","orient":"vertical","size":7,"yOffset":-3.5},"encoding":{"x":{"field":"v","type":"quantitative","axis":null},"y":{"datum":0,"type":"quantitative","axis":null}}},
   {"data":{"name":"at"},"transform":[{"filter":"datum.a=='x'&&datum.k=='M'"}],"mark":{"type":"tick","orient":"vertical","size":7,"yOffset":3.5},"encoding":{"x":{"field":"v","type":"quantitative","axis":null},"y":{"datum":1.656,"type":"quantitative","axis":null}}},
   {"data":{"name":"at"},"transform":[{"filter":"datum.a=='x'&&datum.k=='m'"}],"mark":{"type":"tick","orient":"vertical","size":3.5,"yOffset":-1.75},"encoding":{"x":{"field":"v","type":"quantitative","axis":null},"y":{"datum":0,"type":"quantitative","axis":null}}},
   {"data":{"name":"at"},"transform":[{"filter":"datum.a=='x'&&datum.k=='m'"}],"mark":{"type":"tick","orient":"vertical","size":3.5,"yOffset":1.75},"encoding":{"x":{"field":"v","type":"quantitative","axis":null},"y":{"datum":1.656,"type":"quantitative","axis":null}}},
   {"data":{"name":"at"},"transform":[{"filter":"datum.a=='y'&&datum.k=='M'"}],"mark":{"type":"tick","orient":"horizontal","size":7,"xOffset":3.5},"encoding":{"y":{"field":"v","type":"quantitative","axis":null},"x":{"datum":1166,"type":"quantitative","axis":null}}},
   {"data":{"name":"at"},"transform":[{"filter":"datum.a=='y'&&datum.k=='M'"}],"mark":{"type":"tick","orient":"horizontal","size":7,"xOffset":-3.5},"encoding":{"y":{"field":"v","type":"quantitative","axis":null},"x":{"datum":1187,"type":"quantitative","axis":null}}},
   {"data":{"name":"at"},"transform":[{"filter":"datum.a=='y'&&datum.k=='m'"}],"mark":{"type":"tick","orient":"horizontal","size":3.5,"xOffset":1.75},"encoding":{"y":{"field":"v","type":"quantitative","axis":null},"x":{"datum":1166,"type":"quantitative","axis":null}}},
   {"data":{"name":"at"},"transform":[{"filter":"datum.a=='y'&&datum.k=='m'"}],"mark":{"type":"tick","orient":"horizontal","size":3.5,"xOffset":-1.75},"encoding":{"y":{"field":"v","type":"quantitative","axis":null},"x":{"datum":1187,"type":"quantitative","axis":null}}}
  ],"resolve":{"axis":{"x":"independent","y":"independent"}}},
  {"width":142,"height":104,"layer":[
   {"data":{"name":"bo"},"mark":{"type":"line","color":"black","strokeWidth":1.2,"clip":true},"encoding":{"x":{"field":"x","type":"quantitative","scale":{"domain":[1332.4,1347.6],"nice":false,"zero":false},"axis":{"orient":"bottom","values":[1335,1340,1345],"labelPadding":5.5,"format":"~g","title":null}},"y":{"field":"y","type":"quantitative","scale":{"domain":[0.2,1.2],"nice":false,"zero":false},"axis":{"orient":"left","values":[0.2,0.4,0.6,0.8,1],"labelPadding":6,"format":"~g","title":null}}}},
   {"data":{"name":"bm"},"mark":{"type":"line","color":"#ff0000","strokeWidth":1.5,"clip":true,"interpolate":"monotone"},"encoding":{"x":{"field":"x","type":"quantitative","axis":null},"y":{"field":"y","type":"quantitative","axis":null}}},
   {"data":{"name":"bl"},"mark":{"type":"text","font":"Liberation Serif","fontSize":10.5,"fontWeight":"bold","color":"black"},"encoding":{"x":{"field":"x","type":"quantitative","axis":null},"y":{"field":"y","type":"quantitative","axis":null},"text":{"field":"t"}}},
   {"data":{"name":"bt"},"transform":[{"filter":"datum.a=='x'&&datum.k=='M'"}],"mark":{"type":"tick","orient":"vertical","size":7,"yOffset":-3.5},"encoding":{"x":{"field":"v","type":"quantitative","axis":null},"y":{"datum":0.2,"type":"quantitative","axis":null}}},
   {"data":{"name":"bt"},"transform":[{"filter":"datum.a=='x'&&datum.k=='M'"}],"mark":{"type":"tick","orient":"vertical","size":7,"yOffset":3.5},"encoding":{"x":{"field":"v","type":"quantitative","axis":null},"y":{"datum":1.2,"type":"quantitative","axis":null}}},
   {"data":{"name":"bt"},"transform":[{"filter":"datum.a=='x'&&datum.k=='m'"}],"mark":{"type":"tick","orient":"vertical","size":3.5,"yOffset":-1.75},"encoding":{"x":{"field":"v","type":"quantitative","axis":null},"y":{"datum":0.2,"type":"quantitative","axis":null}}},
   {"data":{"name":"bt"},"transform":[{"filter":"datum.a=='x'&&datum.k=='m'"}],"mark":{"type":"tick","orient":"vertical","size":3.5,"yOffset":1.75},"encoding":{"x":{"field":"v","type":"quantitative","axis":null},"y":{"datum":1.2,"type":"quantitative","axis":null}}},
   {"data":{"name":"bt"},"transform":[{"filter":"datum.a=='y'&&datum.k=='M'"}],"mark":{"type":"tick","orient":"horizontal","size":7,"xOffset":3.5},"encoding":{"y":{"field":"v","type":"quantitative","axis":null},"x":{"datum":1332.4,"type":"quantitative","axis":null}}},
   {"data":{"name":"bt"},"transform":[{"filter":"datum.a=='y'&&datum.k=='M'"}],"mark":{"type":"tick","orient":"horizontal","size":7,"xOffset":-3.5},"encoding":{"y":{"field":"v","type":"quantitative","axis":null},"x":{"datum":1347.6,"type":"quantitative","axis":null}}},
   {"data":{"name":"bt"},"transform":[{"filter":"datum.a=='y'&&datum.k=='m'"}],"mark":{"type":"tick","orient":"horizontal","size":3.5,"xOffset":1.75},"encoding":{"y":{"field":"v","type":"quantitative","axis":null},"x":{"datum":1332.4,"type":"quantitative","axis":null}}},
   {"data":{"name":"bt"},"transform":[{"filter":"datum.a=='y'&&datum.k=='m'"}],"mark":{"type":"tick","orient":"horizontal","size":3.5,"xOffset":-1.75},"encoding":{"y":{"field":"v","type":"quantitative","axis":null},"x":{"datum":1347.6,"type":"quantitative","axis":null}}}
  ],"resolve":{"axis":{"x":"independent","y":"independent"}}}
 ],"spacing":49,"bounds":"flush"},
 {"hconcat": [
  {"width":141,"height":101,"layer":[
   {"data":{"name":"co"},"mark":{"type":"line","color":"black","strokeWidth":1.2,"clip":true},"encoding":{"x":{"field":"x","type":"quantitative","scale":{"domain":[3255,3272.2],"nice":false,"zero":false},"axis":{"orient":"bottom","values":[3255,3260,3265,3270],"labelPadding":5.5,"format":"~g","title":null}},"y":{"field":"y","type":"quantitative","scale":{"domain":[0.89,1.03],"nice":false,"zero":false},"axis":{"orient":"left","values":[0.9,0.95,1],"labelPadding":6,"format":"~g","title":null}}}},
   {"data":{"name":"cm"},"mark":{"type":"line","color":"#ff0000","strokeWidth":1.5,"clip":true,"interpolate":"monotone"},"encoding":{"x":{"field":"x","type":"quantitative","axis":null},"y":{"field":"y","type":"quantitative","axis":null}}},
   {"data":{"name":"cl"},"mark":{"type":"text","font":"Liberation Serif","fontSize":10.5,"fontWeight":"bold","color":"black"},"encoding":{"x":{"field":"x","type":"quantitative","axis":null},"y":{"field":"y","type":"quantitative","axis":null},"text":{"field":"t"}}},
   {"data":{"name":"ct"},"transform":[{"filter":"datum.a=='x'&&datum.k=='M'"}],"mark":{"type":"tick","orient":"vertical","size":7,"yOffset":-3.5},"encoding":{"x":{"field":"v","type":"quantitative","axis":null},"y":{"datum":0.89,"type":"quantitative","axis":null}}},
   {"data":{"name":"ct"},"transform":[{"filter":"datum.a=='x'&&datum.k=='M'"}],"mark":{"type":"tick","orient":"vertical","size":7,"yOffset":3.5},"encoding":{"x":{"field":"v","type":"quantitative","axis":null},"y":{"datum":1.03,"type":"quantitative","axis":null}}},
   {"data":{"name":"ct"},"transform":[{"filter":"datum.a=='x'&&datum.k=='m'"}],"mark":{"type":"tick","orient":"vertical","size":3.5,"yOffset":-1.75},"encoding":{"x":{"field":"v","type":"quantitative","axis":null},"y":{"datum":0.89,"type":"quantitative","axis":null}}},
   {"data":{"name":"ct"},"transform":[{"filter":"datum.a=='x'&&datum.k=='m'"}],"mark":{"type":"tick","orient":"vertical","size":3.5,"yOffset":1.75},"encoding":{"x":{"field":"v","type":"quantitative","axis":null},"y":{"datum":1.03,"type":"quantitative","axis":null}}},
   {"data":{"name":"ct"},"transform":[{"filter":"datum.a=='y'&&datum.k=='M'"}],"mark":{"type":"tick","orient":"horizontal","size":7,"xOffset":3.5},"encoding":{"y":{"field":"v","type":"quantitative","axis":null},"x":{"datum":3255,"type":"quantitative","axis":null}}},
   {"data":{"name":"ct"},"transform":[{"filter":"datum.a=='y'&&datum.k=='M'"}],"mark":{"type":"tick","orient":"horizontal","size":7,"xOffset":-3.5},"encoding":{"y":{"field":"v","type":"quantitative","axis":null},"x":{"datum":3272.2,"type":"quantitative","axis":null}}},
   {"data":{"name":"ct"},"transform":[{"filter":"datum.a=='y'&&datum.k=='m'"}],"mark":{"type":"tick","orient":"horizontal","size":3.5,"xOffset":1.75},"encoding":{"y":{"field":"v","type":"quantitative","axis":null},"x":{"datum":3255,"type":"quantitative","axis":null}}},
   {"data":{"name":"ct"},"transform":[{"filter":"datum.a=='y'&&datum.k=='m'"}],"mark":{"type":"tick","orient":"horizontal","size":3.5,"xOffset":-1.75},"encoding":{"y":{"field":"v","type":"quantitative","axis":null},"x":{"datum":3272.2,"type":"quantitative","axis":null}}}
  ],"resolve":{"axis":{"x":"independent","y":"independent"}}},
  {"width":141,"height":101,"layer":[
   {"data":{"name":"do"},"mark":{"type":"line","color":"black","strokeWidth":1.2,"clip":true},"encoding":{"x":{"field":"x","type":"quantitative","scale":{"domain":[3350,3360],"nice":false,"zero":false},"axis":{"orient":"bottom","values":[3350,3355,3360],"labelPadding":5.5,"format":"~g","title":null}},"y":{"field":"y","type":"quantitative","scale":{"domain":[0.87,1.05],"nice":false,"zero":false},"axis":{"orient":"left","values":[0.9,0.95,1,1.05],"labelPadding":6,"format":"~g","title":null}}}},
   {"data":{"name":"dm"},"mark":{"type":"line","color":"#ff0000","strokeWidth":1.5,"clip":true,"interpolate":"monotone"},"encoding":{"x":{"field":"x","type":"quantitative","axis":null},"y":{"field":"y","type":"quantitative","axis":null}}},
   {"data":{"name":"dl"},"mark":{"type":"text","font":"Liberation Serif","fontSize":10.5,"fontWeight":"bold","color":"black"},"encoding":{"x":{"field":"x","type":"quantitative","axis":null},"y":{"field":"y","type":"quantitative","axis":null},"text":{"field":"t"}}},
   {"data":{"name":"dt"},"transform":[{"filter":"datum.a=='x'&&datum.k=='M'"}],"mark":{"type":"tick","orient":"vertical","size":7,"yOffset":-3.5},"encoding":{"x":{"field":"v","type":"quantitative","axis":null},"y":{"datum":0.87,"type":"quantitative","axis":null}}},
   {"data":{"name":"dt"},"transform":[{"filter":"datum.a=='x'&&datum.k=='M'"}],"mark":{"type":"tick","orient":"vertical","size":7,"yOffset":3.5},"encoding":{"x":{"field":"v","type":"quantitative","axis":null},"y":{"datum":1.05,"type":"quantitative","axis":null}}},
   {"data":{"name":"dt"},"transform":[{"filter":"datum.a=='x'&&datum.k=='m'"}],"mark":{"type":"tick","orient":"vertical","size":3.5,"yOffset":-1.75},"encoding":{"x":{"field":"v","type":"quantitative","axis":null},"y":{"datum":0.87,"type":"quantitative","axis":null}}},
   {"data":{"name":"dt"},"transform":[{"filter":"datum.a=='x'&&datum.k=='m'"}],"mark":{"type":"tick","orient":"vertical","size":3.5,"yOffset":1.75},"encoding":{"x":{"field":"v","type":"quantitative","axis":null},"y":{"datum":1.05,"type":"quantitative","axis":null}}},
   {"data":{"name":"dt"},"transform":[{"filter":"datum.a=='y'&&datum.k=='M'"}],"mark":{"type":"tick","orient":"horizontal","size":7,"xOffset":3.5},"encoding":{"y":{"field":"v","type":"quantitative","axis":null},"x":{"datum":3350,"type":"quantitative","axis":null}}},
   {"data":{"name":"dt"},"transform":[{"filter":"datum.a=='y'&&datum.k=='M'"}],"mark":{"type":"tick","orient":"horizontal","size":7,"xOffset":-3.5},"encoding":{"y":{"field":"v","type":"quantitative","axis":null},"x":{"datum":3360,"type":"quantitative","axis":null}}},
   {"data":{"name":"dt"},"transform":[{"filter":"datum.a=='y'&&datum.k=='m'"}],"mark":{"type":"tick","orient":"horizontal","size":3.5,"xOffset":1.75},"encoding":{"y":{"field":"v","type":"quantitative","axis":null},"x":{"datum":3350,"type":"quantitative","axis":null}}},
   {"data":{"name":"dt"},"transform":[{"filter":"datum.a=='y'&&datum.k=='m'"}],"mark":{"type":"tick","orient":"horizontal","size":3.5,"xOffset":-1.75},"encoding":{"y":{"field":"v","type":"quantitative","axis":null},"x":{"datum":3360,"type":"quantitative","axis":null}}}
  ],"resolve":{"axis":{"x":"independent","y":"independent"}}},
  {"width":141,"height":101,"layer":[
   {"data":{"name":"eo"},"mark":{"type":"line","color":"black","strokeWidth":1.2,"clip":true},"encoding":{"x":{"field":"x","type":"quantitative","scale":{"domain":[3470,3490],"nice":false,"zero":false},"axis":{"orient":"bottom","values":[3470,3480,3490],"labelPadding":5.5,"format":"~g","title":null}},"y":{"field":"y","type":"quantitative","scale":{"domain":[0.81,1.031],"nice":false,"zero":false},"axis":{"orient":"left","values":[0.85,0.9,0.95,1],"labelPadding":6,"format":"~g","title":null}}}},
   {"data":{"name":"em"},"mark":{"type":"line","color":"#ff0000","strokeWidth":1.5,"clip":true,"interpolate":"monotone"},"encoding":{"x":{"field":"x","type":"quantitative","axis":null},"y":{"field":"y","type":"quantitative","axis":null}}},
   {"data":{"name":"el"},"mark":{"type":"text","font":"Liberation Serif","fontSize":10.5,"fontWeight":"bold","color":"black"},"encoding":{"x":{"field":"x","type":"quantitative","axis":null},"y":{"field":"y","type":"quantitative","axis":null},"text":{"field":"t"}}},
   {"data":{"name":"et"},"transform":[{"filter":"datum.a=='x'&&datum.k=='M'"}],"mark":{"type":"tick","orient":"vertical","size":7,"yOffset":-3.5},"encoding":{"x":{"field":"v","type":"quantitative","axis":null},"y":{"datum":0.81,"type":"quantitative","axis":null}}},
   {"data":{"name":"et"},"transform":[{"filter":"datum.a=='x'&&datum.k=='M'"}],"mark":{"type":"tick","orient":"vertical","size":7,"yOffset":3.5},"encoding":{"x":{"field":"v","type":"quantitative","axis":null},"y":{"datum":1.031,"type":"quantitative","axis":null}}},
   {"data":{"name":"et"},"transform":[{"filter":"datum.a=='x'&&datum.k=='m'"}],"mark":{"type":"tick","orient":"vertical","size":3.5,"yOffset":-1.75},"encoding":{"x":{"field":"v","type":"quantitative","axis":null},"y":{"datum":0.81,"type":"quantitative","axis":null}}},
   {"data":{"name":"et"},"transform":[{"filter":"datum.a=='x'&&datum.k=='m'"}],"mark":{"type":"tick","orient":"vertical","size":3.5,"yOffset":1.75},"encoding":{"x":{"field":"v","type":"quantitative","axis":null},"y":{"datum":1.031,"type":"quantitative","axis":null}}},
   {"data":{"name":"et"},"transform":[{"filter":"datum.a=='y'&&datum.k=='M'"}],"mark":{"type":"tick","orient":"horizontal","size":7,"xOffset":3.5},"encoding":{"y":{"field":"v","type":"quantitative","axis":null},"x":{"datum":3470,"type":"quantitative","axis":null}}},
   {"data":{"name":"et"},"transform":[{"filter":"datum.a=='y'&&datum.k=='M'"}],"mark":{"type":"tick","orient":"horizontal","size":7,"xOffset":-3.5},"encoding":{"y":{"field":"v","type":"quantitative","axis":null},"x":{"datum":3490,"type":"quantitative","axis":null}}},
   {"data":{"name":"et"},"transform":[{"filter":"datum.a=='y'&&datum.k=='m'"}],"mark":{"type":"tick","orient":"horizontal","size":3.5,"xOffset":1.75},"encoding":{"y":{"field":"v","type":"quantitative","axis":null},"x":{"datum":3470,"type":"quantitative","axis":null}}},
   {"data":{"name":"et"},"transform":[{"filter":"datum.a=='y'&&datum.k=='m'"}],"mark":{"type":"tick","orient":"horizontal","size":3.5,"xOffset":-1.75},"encoding":{"y":{"field":"v","type":"quantitative","axis":null},"x":{"datum":3490,"type":"quantitative","axis":null}}}
  ],"resolve":{"axis":{"x":"independent","y":"independent"}}}
 ],"spacing":49.5,"bounds":"flush"},
 {"hconcat": [
  {"width":141,"height":100,"layer":[
   {"data":{"name":"fo"},"mark":{"type":"line","color":"black","strokeWidth":1.2,"clip":true},"encoding":{"x":{"field":"x","type":"quantitative","scale":{"domain":[3955.95,3966.6],"nice":false,"zero":false},"axis":{"orient":"bottom","values":[3960,3965],"labelPadding":5.5,"format":"~g","title":null}},"y":{"field":"y","type":"quantitative","scale":{"domain":[0.881,1.021],"nice":false,"zero":false},"axis":{"orient":"left","values":[0.9,0.95,1],"labelPadding":6,"format":"~g","title":null}}}},
   {"data":{"name":"fm"},"mark":{"type":"line","color":"#ff0000","strokeWidth":1.5,"clip":true,"interpolate":"monotone"},"encoding":{"x":{"field":"x","type":"quantitative","axis":null},"y":{"field":"y","type":"quantitative","axis":{"orient":"left","values":[1.021],"labelExpr":"'1'","labelOpacity":0,"labelPadding":6,"title":null}}}},
   {"data":{"name":"fl"},"mark":{"type":"text","font":"Liberation Serif","fontSize":10.5,"fontWeight":"bold","color":"black"},"encoding":{"x":{"field":"x","type":"quantitative","axis":null},"y":{"field":"y","type":"quantitative","axis":null},"text":{"field":"t"}}},
   {"data":{"name":"ft"},"transform":[{"filter":"datum.a=='x'&&datum.k=='M'"}],"mark":{"type":"tick","orient":"vertical","size":7,"yOffset":-3.5},"encoding":{"x":{"field":"v","type":"quantitative","axis":null},"y":{"datum":0.881,"type":"quantitative","axis":null}}},
   {"data":{"name":"ft"},"transform":[{"filter":"datum.a=='x'&&datum.k=='M'"}],"mark":{"type":"tick","orient":"vertical","size":7,"yOffset":3.5},"encoding":{"x":{"field":"v","type":"quantitative","axis":null},"y":{"datum":1.021,"type":"quantitative","axis":null}}},
   {"data":{"name":"ft"},"transform":[{"filter":"datum.a=='x'&&datum.k=='m'"}],"mark":{"type":"tick","orient":"vertical","size":3.5,"yOffset":-1.75},"encoding":{"x":{"field":"v","type":"quantitative","axis":null},"y":{"datum":0.881,"type":"quantitative","axis":null}}},
   {"data":{"name":"ft"},"transform":[{"filter":"datum.a=='x'&&datum.k=='m'"}],"mark":{"type":"tick","orient":"vertical","size":3.5,"yOffset":1.75},"encoding":{"x":{"field":"v","type":"quantitative","axis":null},"y":{"datum":1.021,"type":"quantitative","axis":null}}},
   {"data":{"name":"ft"},"transform":[{"filter":"datum.a=='y'&&datum.k=='M'"}],"mark":{"type":"tick","orient":"horizontal","size":7,"xOffset":3.5},"encoding":{"y":{"field":"v","type":"quantitative","axis":null},"x":{"datum":3955.95,"type":"quantitative","axis":null}}},
   {"data":{"name":"ft"},"transform":[{"filter":"datum.a=='y'&&datum.k=='M'"}],"mark":{"type":"tick","orient":"horizontal","size":7,"xOffset":-3.5},"encoding":{"y":{"field":"v","type":"quantitative","axis":null},"x":{"datum":3966.6,"type":"quantitative","axis":null}}},
   {"data":{"name":"ft"},"transform":[{"filter":"datum.a=='y'&&datum.k=='m'"}],"mark":{"type":"tick","orient":"horizontal","size":3.5,"xOffset":1.75},"encoding":{"y":{"field":"v","type":"quantitative","axis":null},"x":{"datum":3955.95,"type":"quantitative","axis":null}}},
   {"data":{"name":"ft"},"transform":[{"filter":"datum.a=='y'&&datum.k=='m'"}],"mark":{"type":"tick","orient":"horizontal","size":3.5,"xOffset":-1.75},"encoding":{"y":{"field":"v","type":"quantitative","axis":null},"x":{"datum":3966.6,"type":"quantitative","axis":null}}}
  ],"resolve":{"axis":{"x":"independent","y":"independent"}}},
  {"width":141,"height":100,"layer":[
   {"data":{"name":"go"},"mark":{"type":"line","color":"black","strokeWidth":1.2,"clip":true},"encoding":{"x":{"field":"x","type":"quantitative","scale":{"domain":[4094.06,4101.67],"nice":false,"zero":false},"axis":{"orient":"bottom","values":[4095,4100],"labelPadding":5.5,"format":"~g","title":null}},"y":{"field":"y","type":"quantitative","scale":{"domain":[0.63,1.065],"nice":false,"zero":false},"axis":{"orient":"left","values":[0.7,0.8,0.9,1],"labelPadding":6,"format":"~g","title":null}}}},
   {"data":{"name":"gm"},"mark":{"type":"line","color":"#ff0000","strokeWidth":1.5,"clip":true,"interpolate":"monotone"},"encoding":{"x":{"field":"x","type":"quantitative","axis":null},"y":{"field":"y","type":"quantitative","axis":null}}},
   {"data":{"name":"gl"},"mark":{"type":"text","font":"Liberation Serif","fontSize":10.5,"fontWeight":"bold","color":"black"},"encoding":{"x":{"field":"x","type":"quantitative","axis":null},"y":{"field":"y","type":"quantitative","axis":null},"text":{"field":"t"}}},
   {"data":{"name":"gt"},"transform":[{"filter":"datum.a=='x'&&datum.k=='M'"}],"mark":{"type":"tick","orient":"vertical","size":7,"yOffset":-3.5},"encoding":{"x":{"field":"v","type":"quantitative","axis":null},"y":{"datum":0.63,"type":"quantitative","axis":null}}},
   {"data":{"name":"gt"},"transform":[{"filter":"datum.a=='x'&&datum.k=='M'"}],"mark":{"type":"tick","orient":"vertical","size":7,"yOffset":3.5},"encoding":{"x":{"field":"v","type":"quantitative","axis":null},"y":{"datum":1.065,"type":"quantitative","axis":null}}},
   {"data":{"name":"gt"},"transform":[{"filter":"datum.a=='x'&&datum.k=='m'"}],"mark":{"type":"tick","orient":"vertical","size":3.5,"yOffset":-1.75},"encoding":{"x":{"field":"v","type":"quantitative","axis":null},"y":{"datum":0.63,"type":"quantitative","axis":null}}},
   {"data":{"name":"gt"},"transform":[{"filter":"datum.a=='x'&&datum.k=='m'"}],"mark":{"type":"tick","orient":"vertical","size":3.5,"yOffset":1.75},"encoding":{"x":{"field":"v","type":"quantitative","axis":null},"y":{"datum":1.065,"type":"quantitative","axis":null}}},
   {"data":{"name":"gt"},"transform":[{"filter":"datum.a=='y'&&datum.k=='M'"}],"mark":{"type":"tick","orient":"horizontal","size":7,"xOffset":3.5},"encoding":{"y":{"field":"v","type":"quantitative","axis":null},"x":{"datum":4094.06,"type":"quantitative","axis":null}}},
   {"data":{"name":"gt"},"transform":[{"filter":"datum.a=='y'&&datum.k=='M'"}],"mark":{"type":"tick","orient":"horizontal","size":7,"xOffset":-3.5},"encoding":{"y":{"field":"v","type":"quantitative","axis":null},"x":{"datum":4101.67,"type":"quantitative","axis":null}}},
   {"data":{"name":"gt"},"transform":[{"filter":"datum.a=='y'&&datum.k=='m'"}],"mark":{"type":"tick","orient":"horizontal","size":3.5,"xOffset":1.75},"encoding":{"y":{"field":"v","type":"quantitative","axis":null},"x":{"datum":4094.06,"type":"quantitative","axis":null}}},
   {"data":{"name":"gt"},"transform":[{"filter":"datum.a=='y'&&datum.k=='m'"}],"mark":{"type":"tick","orient":"horizontal","size":3.5,"xOffset":-1.75},"encoding":{"y":{"field":"v","type":"quantitative","axis":null},"x":{"datum":4101.67,"type":"quantitative","axis":null}}}
  ],"resolve":{"axis":{"x":"independent","y":"independent"}}},
  {"width":141,"height":100,"layer":[
   {"data":{"name":"ho"},"mark":{"type":"line","color":"black","strokeWidth":1.2,"clip":true},"encoding":{"x":{"field":"x","type":"quantitative","scale":{"domain":[5585,5599.2],"nice":false,"zero":false},"axis":{"orient":"bottom","values":[5585,5590,5595],"labelPadding":5.5,"format":"~g","title":null}},"y":{"field":"y","type":"quantitative","scale":{"domain":[0.85,1.07],"nice":false,"zero":false},"axis":{"orient":"left","values":[0.85,0.9,0.95,1,1.05],"labelPadding":6,"format":"~g","title":null}}}},
   {"data":{"name":"hm"},"mark":{"type":"line","color":"#ff0000","strokeWidth":1.5,"clip":true,"interpolate":"monotone"},"encoding":{"x":{"field":"x","type":"quantitative","axis":null},"y":{"field":"y","type":"quantitative","axis":null}}},
   {"data":{"name":"hl"},"mark":{"type":"text","font":"Liberation Serif","fontSize":10.5,"fontWeight":"bold","color":"black"},"encoding":{"x":{"field":"x","type":"quantitative","axis":null},"y":{"field":"y","type":"quantitative","axis":null},"text":{"field":"t"}}},
   {"data":{"name":"ht"},"transform":[{"filter":"datum.a=='x'&&datum.k=='M'"}],"mark":{"type":"tick","orient":"vertical","size":7,"yOffset":-3.5},"encoding":{"x":{"field":"v","type":"quantitative","axis":null},"y":{"datum":0.85,"type":"quantitative","axis":null}}},
   {"data":{"name":"ht"},"transform":[{"filter":"datum.a=='x'&&datum.k=='M'"}],"mark":{"type":"tick","orient":"vertical","size":7,"yOffset":3.5},"encoding":{"x":{"field":"v","type":"quantitative","axis":null},"y":{"datum":1.07,"type":"quantitative","axis":null}}},
   {"data":{"name":"ht"},"transform":[{"filter":"datum.a=='x'&&datum.k=='m'"}],"mark":{"type":"tick","orient":"vertical","size":3.5,"yOffset":-1.75},"encoding":{"x":{"field":"v","type":"quantitative","axis":null},"y":{"datum":0.85,"type":"quantitative","axis":null}}},
   {"data":{"name":"ht"},"transform":[{"filter":"datum.a=='x'&&datum.k=='m'"}],"mark":{"type":"tick","orient":"vertical","size":3.5,"yOffset":1.75},"encoding":{"x":{"field":"v","type":"quantitative","axis":null},"y":{"datum":1.07,"type":"quantitative","axis":null}}},
   {"data":{"name":"ht"},"transform":[{"filter":"datum.a=='y'&&datum.k=='M'"}],"mark":{"type":"tick","orient":"horizontal","size":7,"xOffset":3.5},"encoding":{"y":{"field":"v","type":"quantitative","axis":null},"x":{"datum":5585,"type":"quantitative","axis":null}}},
   {"data":{"name":"ht"},"transform":[{"filter":"datum.a=='y'&&datum.k=='M'"}],"mark":{"type":"tick","orient":"horizontal","size":7,"xOffset":-3.5},"encoding":{"y":{"field":"v","type":"quantitative","axis":null},"x":{"datum":5599.2,"type":"quantitative","axis":null}}},
   {"data":{"name":"ht"},"transform":[{"filter":"datum.a=='y'&&datum.k=='m'"}],"mark":{"type":"tick","orient":"horizontal","size":3.5,"xOffset":1.75},"encoding":{"y":{"field":"v","type":"quantitative","axis":null},"x":{"datum":5585,"type":"quantitative","axis":null}}},
   {"data":{"name":"ht"},"transform":[{"filter":"datum.a=='y'&&datum.k=='m'"}],"mark":{"type":"tick","orient":"horizontal","size":3.5,"xOffset":-1.75},"encoding":{"y":{"field":"v","type":"quantitative","axis":null},"x":{"datum":5599.2,"type":"quantitative","axis":null}}}
  ],"resolve":{"axis":{"x":"independent","y":"independent"}}}
 ],"spacing":49.5,"bounds":"flush"},
 {"hconcat": [
  {"width":237,"height":101,"layer":[
   {"data":{"name":"io"},"mark":{"type":"line","color":"black","strokeWidth":1.2,"clip":true},"encoding":{"x":{"field":"x","type":"quantitative","scale":{"domain":[4060,4080],"nice":false,"zero":false},"axis":{"orient":"bottom","values":[4060,4065,4070,4075,4080],"labelPadding":5.5,"format":"~g","title":null}},"y":{"field":"y","type":"quantitative","scale":{"domain":[0.888,1.04],"nice":false,"zero":false},"axis":{"orient":"left","values":[0.9,0.95,1],"labelPadding":6,"format":"~g","title":null}}}},
   {"data":{"name":"im"},"mark":{"type":"line","color":"#ff0000","strokeWidth":1.5,"clip":true,"interpolate":"monotone"},"encoding":{"x":{"field":"x","type":"quantitative","axis":null},"y":{"field":"y","type":"quantitative","axis":{"orient":"left","values":[1.04],"labelExpr":"'1'","labelOpacity":0,"labelPadding":6,"title":null}}}},
   {"data":{"name":"il"},"mark":{"type":"text","font":"Liberation Serif","fontSize":10.5,"fontWeight":"bold","color":"black"},"encoding":{"x":{"field":"x","type":"quantitative","axis":null},"y":{"field":"y","type":"quantitative","axis":null},"text":{"field":"t"}}},
   {"data":{"name":"it"},"transform":[{"filter":"datum.a=='x'&&datum.k=='M'"}],"mark":{"type":"tick","orient":"vertical","size":7,"yOffset":-3.5},"encoding":{"x":{"field":"v","type":"quantitative","axis":null},"y":{"datum":0.888,"type":"quantitative","axis":null}}},
   {"data":{"name":"it"},"transform":[{"filter":"datum.a=='x'&&datum.k=='M'"}],"mark":{"type":"tick","orient":"vertical","size":7,"yOffset":3.5},"encoding":{"x":{"field":"v","type":"quantitative","axis":null},"y":{"datum":1.04,"type":"quantitative","axis":null}}},
   {"data":{"name":"it"},"transform":[{"filter":"datum.a=='x'&&datum.k=='m'"}],"mark":{"type":"tick","orient":"vertical","size":3.5,"yOffset":-1.75},"encoding":{"x":{"field":"v","type":"quantitative","axis":null},"y":{"datum":0.888,"type":"quantitative","axis":null}}},
   {"data":{"name":"it"},"transform":[{"filter":"datum.a=='x'&&datum.k=='m'"}],"mark":{"type":"tick","orient":"vertical","size":3.5,"yOffset":1.75},"encoding":{"x":{"field":"v","type":"quantitative","axis":null},"y":{"datum":1.04,"type":"quantitative","axis":null}}},
   {"data":{"name":"it"},"transform":[{"filter":"datum.a=='y'&&datum.k=='M'"}],"mark":{"type":"tick","orient":"horizontal","size":7,"xOffset":3.5},"encoding":{"y":{"field":"v","type":"quantitative","axis":null},"x":{"datum":4060,"type":"quantitative","axis":null}}},
   {"data":{"name":"it"},"transform":[{"filter":"datum.a=='y'&&datum.k=='M'"}],"mark":{"type":"tick","orient":"horizontal","size":7,"xOffset":-3.5},"encoding":{"y":{"field":"v","type":"quantitative","axis":null},"x":{"datum":4080,"type":"quantitative","axis":null}}},
   {"data":{"name":"it"},"transform":[{"filter":"datum.a=='y'&&datum.k=='m'"}],"mark":{"type":"tick","orient":"horizontal","size":3.5,"xOffset":1.75},"encoding":{"y":{"field":"v","type":"quantitative","axis":null},"x":{"datum":4060,"type":"quantitative","axis":null}}},
   {"data":{"name":"it"},"transform":[{"filter":"datum.a=='y'&&datum.k=='m'"}],"mark":{"type":"tick","orient":"horizontal","size":3.5,"xOffset":-1.75},"encoding":{"y":{"field":"v","type":"quantitative","axis":null},"x":{"datum":4080,"type":"quantitative","axis":null}}}
  ],"resolve":{"axis":{"x":"independent","y":"independent"}}},
  {"width":237,"height":101,"layer":[
   {"data":{"name":"jo"},"mark":{"type":"line","color":"black","strokeWidth":1.2,"clip":true},"encoding":{"x":{"field":"x","type":"quantitative","scale":{"domain":[4501.4,4523.4],"nice":false,"zero":false},"axis":{"orient":"bottom","values":[4505,4510,4515,4520],"labelPadding":5.5,"format":"~g","title":null}},"y":{"field":"y","type":"quantitative","scale":{"domain":[0.879,1.04],"nice":false,"zero":false},"axis":{"orient":"left","values":[0.9,0.95,1],"labelPadding":6,"format":"~g","title":null}}}},
   {"data":{"name":"jm"},"mark":{"type":"line","color":"#ff0000","strokeWidth":1.5,"clip":true,"interpolate":"monotone"},"encoding":{"x":{"field":"x","type":"quantitative","axis":null},"y":{"field":"y","type":"quantitative","axis":null}}},
   {"data":{"name":"jl"},"mark":{"type":"text","font":"Liberation Serif","fontSize":10.5,"fontWeight":"bold","color":"black"},"encoding":{"x":{"field":"x","type":"quantitative","axis":null},"y":{"field":"y","type":"quantitative","axis":null},"text":{"field":"t"}}},
   {"data":{"name":"jt"},"transform":[{"filter":"datum.a=='x'&&datum.k=='M'"}],"mark":{"type":"tick","orient":"vertical","size":7,"yOffset":-3.5},"encoding":{"x":{"field":"v","type":"quantitative","axis":null},"y":{"datum":0.879,"type":"quantitative","axis":null}}},
   {"data":{"name":"jt"},"transform":[{"filter":"datum.a=='x'&&datum.k=='M'"}],"mark":{"type":"tick","orient":"vertical","size":7,"yOffset":3.5},"encoding":{"x":{"field":"v","type":"quantitative","axis":null},"y":{"datum":1.04,"type":"quantitative","axis":null}}},
   {"data":{"name":"jt"},"transform":[{"filter":"datum.a=='x'&&datum.k=='m'"}],"mark":{"type":"tick","orient":"vertical","size":3.5,"yOffset":-1.75},"encoding":{"x":{"field":"v","type":"quantitative","axis":null},"y":{"datum":0.879,"type":"quantitative","axis":null}}},
   {"data":{"name":"jt"},"transform":[{"filter":"datum.a=='x'&&datum.k=='m'"}],"mark":{"type":"tick","orient":"vertical","size":3.5,"yOffset":1.75},"encoding":{"x":{"field":"v","type":"quantitative","axis":null},"y":{"datum":1.04,"type":"quantitative","axis":null}}},
   {"data":{"name":"jt"},"transform":[{"filter":"datum.a=='y'&&datum.k=='M'"}],"mark":{"type":"tick","orient":"horizontal","size":7,"xOffset":3.5},"encoding":{"y":{"field":"v","type":"quantitative","axis":null},"x":{"datum":4501.4,"type":"quantitative","axis":null}}},
   {"data":{"name":"jt"},"transform":[{"filter":"datum.a=='y'&&datum.k=='M'"}],"mark":{"type":"tick","orient":"horizontal","size":7,"xOffset":-3.5},"encoding":{"y":{"field":"v","type":"quantitative","axis":null},"x":{"datum":4523.4,"type":"quantitative","axis":null}}},
   {"data":{"name":"jt"},"transform":[{"filter":"datum.a=='y'&&datum.k=='m'"}],"mark":{"type":"tick","orient":"horizontal","size":3.5,"xOffset":1.75},"encoding":{"y":{"field":"v","type":"quantitative","axis":null},"x":{"datum":4501.4,"type":"quantitative","axis":null}}},
   {"data":{"name":"jt"},"transform":[{"filter":"datum.a=='y'&&datum.k=='m'"}],"mark":{"type":"tick","orient":"horizontal","size":3.5,"xOffset":-1.75},"encoding":{"y":{"field":"v","type":"quantitative","axis":null},"x":{"datum":4523.4,"type":"quantitative","axis":null}}}
  ],"resolve":{"axis":{"x":"independent","y":"independent"}}}
 ],"spacing":48,"bounds":"flush"}
]
}
